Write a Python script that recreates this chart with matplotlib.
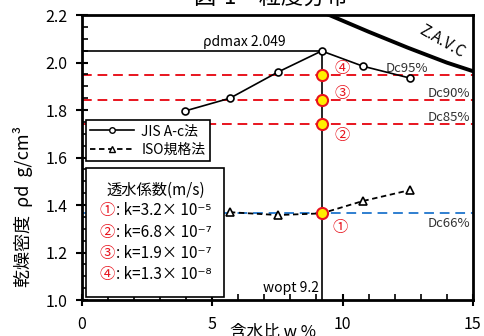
import matplotlib
matplotlib.use('Agg')
import matplotlib.pyplot as plt
from matplotlib.patches import Rectangle
from matplotlib.lines import Line2D
from matplotlib.ticker import MultipleLocator

plt.rcParams['font.family'] = ['Noto Sans CJK JP', 'DejaVu Sans']

# JIS A-c法 の締固め曲線
w_jis = [3.95, 5.68, 7.52, 9.2, 10.78, 12.58]
rho_jis = [1.796, 1.850, 1.960, 2.049, 1.985, 1.935]

# ISO規格法
w_iso = [5.68, 7.52, 9.2, 10.78, 12.58]
rho_iso = [1.370, 1.358, 1.365, 1.417, 1.463]

# ゼロ空気間隙曲線
w_zavc = [9.5, 11.0, 12.5, 14.0, 15.0]
rho_zavc = [2.200, 2.130, 2.063, 2.000, 1.964]

rho_max = 2.049
w_opt = 9.2

# 締固め度の線
dc_labels = ['Dc95%', 'Dc90%', 'Dc85%', 'Dc66%']
dc_values = [1.947, 1.844, 1.742, 1.365]

# 透水係数
k_marks = ['①', '②', '③', '④']
k_texts = [': k=3.2× 10⁻⁵', ': k=6.8× 10⁻⁷', ': k=1.9× 10⁻⁷', ': k=1.3× 10⁻⁸']

fig = plt.figure(figsize=(4.84, 3.36), dpi=100)
ax = fig.add_axes([0.169, 0.107, 0.808, 0.848])

# 締固め度の破線
for lab, v in zip(dc_labels, dc_values):
    col = '#2f7fd0' if lab == 'Dc66%' else '#e8141e'
    ax.axhline(v, color=col, ls=(0, (5, 3)), lw=1.4, zorder=1)

# 最大乾燥密度と最適含水比の線
ax.plot([0, w_opt], [rho_max, rho_max], color='black', lw=1.2, zorder=2)
ax.plot([w_opt, w_opt], [1.0, rho_max], color='black', lw=1.2, zorder=2)

ax.plot(w_zavc, rho_zavc, color='black', lw=2.8, zorder=3)
ax.plot(w_jis, rho_jis, color='black', lw=1.2, marker='o', ms=5,
        mfc='white', mec='black', mew=1.2, zorder=4)
ax.plot(w_iso, rho_iso, color='black', lw=1.3, ls=(0, (3, 2)), marker='^', ms=6,
        mfc='white', mec='black', mew=1.2, zorder=4)

# 透水試験の供試体
ax.plot([w_opt] * 4, dc_values, ls='none', marker='o', ms=8,
        mfc='#ffee00', mec='#e8141e', mew=1.5, zorder=5)

ax.text(9.68, 1.975, '④', color='#e8141e', fontsize=11, va='center')
ax.text(9.68, 1.868, '③', color='#e8141e', fontsize=11, va='center')
ax.text(9.68, 1.695, '②', color='#e8141e', fontsize=11, va='center')
ax.text(9.6, 1.305, '①', color='#e8141e', fontsize=11, va='center')

ax.text(12.45, 1.975, 'Dc95%', fontsize=9.5, ha='center', va='center', color='#333333')
ax.text(14.9, 1.868, 'Dc90%', fontsize=9.5, ha='right', va='center', color='#333333')
ax.text(14.9, 1.768, 'Dc85%', fontsize=9.5, ha='right', va='center', color='#333333')
ax.text(14.9, 1.322, 'Dc66%', fontsize=9.5, ha='right', va='center', color='#333333')

ax.text(6.25, 2.085, 'ρdmax 2.049', fontsize=10, ha='center', va='center')
ax.text(9.1, 1.052, 'wopt 9.2', fontsize=10, ha='right', va='center')
ax.text(13.8, 2.088, 'Z.A.V.C', fontsize=11, ha='center', va='center', rotation=-30)

# 凡例
handles = [Line2D([], [], color='black', lw=1.2, marker='o', ms=4, mfc='white'),
           Line2D([], [], color='black', lw=1.3, ls=(0, (3, 2)), marker='^', ms=5, mfc='white')]
leg = ax.legend(handles, ['JIS A-c法', 'ISO規格法'], loc='upper left',
                bbox_to_anchor=(0.01, 0.632), fontsize=10, fancybox=False,
                edgecolor='black', framealpha=1, borderpad=0.3, handlelength=3.2,
                handletextpad=0.5, labelspacing=0.35, borderaxespad=0)
leg.get_frame().set_linewidth(1.2)

ax.add_patch(Rectangle((0.012, 0.0105), 0.352, 0.452, transform=ax.transAxes,
                       facecolor='white', edgecolor='black', lw=1.2, zorder=6))
ax.text(0.188, 0.385, '透水係数(m/s)', transform=ax.transAxes, fontsize=11,
        ha='center', va='center', zorder=7)
row_y = [0.315, 0.238, 0.164, 0.09]
for m, t, yy in zip(k_marks, k_texts, row_y):
    ax.text(0.045, yy, m, transform=ax.transAxes, color='#e8141e', fontsize=11,
            va='center', zorder=7)
    ax.text(0.088, yy, t, transform=ax.transAxes, fontsize=11, va='center', zorder=7)

ax.set_xlim(0, 15)
ax.set_ylim(1.0, 2.2)
ax.xaxis.set_major_locator(MultipleLocator(5))
ax.xaxis.set_minor_locator(MultipleLocator(1))
ax.yaxis.set_major_locator(MultipleLocator(0.2))
ax.yaxis.set_minor_locator(MultipleLocator(0.05))
ax.set_yticklabels([f'{v:.1f}' for v in ax.get_yticks()])
ax.tick_params(which='major', direction='inout', length=9, width=1.5, labelsize=11.5,
               colors='black')
ax.tick_params(which='minor', direction='in', length=4, width=1.2)
ax.tick_params(axis='x', which='major', pad=7)
ax.tick_params(axis='y', which='major', pad=6)
for s in ax.spines.values():
    s.set_linewidth(2)

ax.set_ylabel('乾燥密度  ρd  g/cm³', fontsize=13)
ax.yaxis.set_label_coords(-0.125, 0.33)
ax.set_xlabel('含水比 w %', fontsize=12)
ax.xaxis.set_label_coords(0.49, -0.085)
ax.xaxis.label.set_va('top')
fig.text(0.56, 0.975, '図-1　粒度分布', fontsize=16, ha='center', va='bottom')

fig.savefig('out.png', dpi=100)
